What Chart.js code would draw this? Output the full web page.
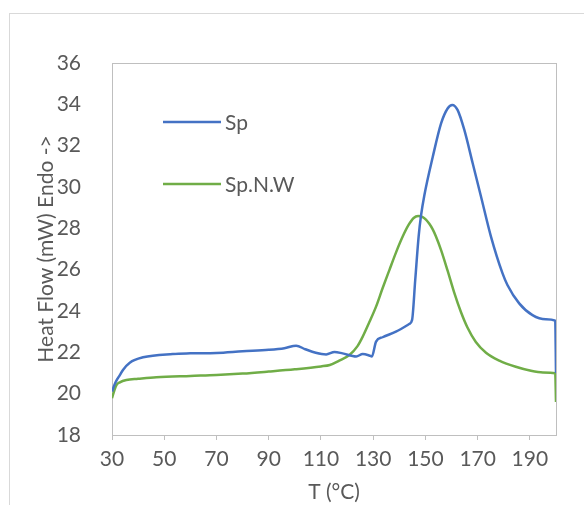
<!DOCTYPE html>
<html>
<head>
<meta charset="utf-8">
<script src="https://cdn.jsdelivr.net/npm/chart.js@4.4.1/dist/chart.umd.min.js"></script>
<style>
    body { margin: 0; background: #fff; }
    #wrap { position: relative; width: 584px; height: 505px; }
    #frame { position: absolute; left: 9px; top: 13px; width: 600px; height: 520px; border: 1px solid #d9d9d9; box-sizing: border-box; }
</style>
</head>
<body>
<div id="wrap">
    <div id="frame"></div>
    <canvas id="dscChart"></canvas>
</div>
<script>
// Sp (blue)
const tSp = [30, 31, 32, 33, 34.2, 36.8, 41.9, 53.3, 60, 70, 80, 90, 96, 100.5, 104, 108, 112, 115.2, 118.3, 123.5, 126, 128.5, 129.5, 131.1, 133.6, 138.7, 143.8, 144.9, 146.1, 147.4, 148.3, 149.6, 152.8, 156, 158.5, 160.3, 162.3, 164.9, 168.1, 171.3, 175.1, 179.5, 181.4, 185.9, 191, 196.1, 199.7, 200];
const hfSp = [20.1, 20.45, 20.7, 20.9, 21.15, 21.5, 21.76, 21.92, 21.95, 21.97, 22.05, 22.12, 22.2, 22.32, 22.15, 21.98, 21.9, 22.02, 21.95, 21.8, 21.92, 21.85, 21.8, 22.52, 22.73, 23.0, 23.37, 23.57, 25.5, 27.6, 28.6, 29.6, 31.45, 33.08, 33.8, 33.97, 33.73, 32.76, 31.15, 29.53, 27.6, 25.83, 25.26, 24.37, 23.8, 23.6, 23.53, 21.0];

// Sp.N.W (green)
const tNW = [30, 31, 31.7, 33, 35.5, 40, 47, 60, 70, 80, 90, 100, 110, 113.4, 117, 120.9, 124, 126, 128.5, 131.1, 133.6, 136.2, 138.8, 141.3, 143.5, 145.5, 147.2, 148.8, 150.2, 151.5, 152.8, 154, 156, 158.5, 161, 163.6, 166.1, 169.3, 173.2, 178.3, 184.6, 190, 195, 199.7, 200];
const hfNW = [19.78, 20.2, 20.42, 20.55, 20.66, 20.72, 20.8, 20.86, 20.9, 20.97, 21.07, 21.18, 21.32, 21.39, 21.6, 21.87, 22.3, 22.76, 23.45, 24.21, 25.1, 25.98, 26.85, 27.6, 28.15, 28.5, 28.6, 28.55, 28.42, 28.22, 27.95, 27.62, 26.95, 25.95, 24.9, 23.95, 23.2, 22.5, 21.98, 21.6, 21.3, 21.12, 21.03, 20.99, 19.6];

const seriesNames = ["Sp", "Sp.N.W"];
const seriesColors = ["#4472C4", "#70AD47"];
const xTicks = [30, 50, 70, 90, 110, 130, 150, 170, 190];

const textColor = "#595959";
const axisColor = "#bfbfbf";
const fontFamily = "Lato, 'Open Sans', sans-serif";
const fontSize = 21;

function toPoints(xs, ys) {
    return xs.map((x, i) => ({ x: x, y: ys[i] }));
}

// box round the plot area and the legend inside it
const plotBox = {
    id: "plotBox",
    beforeDatasetsDraw(chart) {
        const a = chart.chartArea;
        const ctx = chart.ctx;
        ctx.save();
        ctx.strokeStyle = axisColor;
        ctx.lineWidth = 1;
        ctx.strokeRect(a.left + 0.5, a.top + 0.5, a.right - a.left, a.bottom - a.top);
        ctx.restore();
    },
    afterDraw(chart) {
        const a = chart.chartArea;
        const ctx = chart.ctx;
        ctx.save();
        ctx.font = fontSize + "px " + fontFamily;
        ctx.textBaseline = "middle";
        seriesNames.forEach((name, i) => {
            const y = a.top + 59 + i * 62;
            ctx.strokeStyle = seriesColors[i];
            ctx.lineWidth = 2.5;
            ctx.beginPath();
            ctx.moveTo(a.left + 51, y);
            ctx.lineTo(a.left + 109, y);
            ctx.stroke();
            ctx.fillStyle = textColor;
            ctx.fillText(name, a.left + 113, y + 1);
        });
        ctx.restore();
    }
};

new Chart(document.getElementById("dscChart"), {
    type: "scatter",
    data: {
        datasets: [
            {
                label: seriesNames[0],
                data: toPoints(tSp, hfSp),
                borderColor: seriesColors[0],
                borderWidth: 2.5,
                showLine: true,
                pointRadius: 0,
                cubicInterpolationMode: "monotone"
            },
            {
                label: seriesNames[1],
                data: toPoints(tNW, hfNW),
                borderColor: seriesColors[1],
                borderWidth: 2.5,
                showLine: true,
                pointRadius: 0,
                cubicInterpolationMode: "monotone"
            }
        ]
    },
    options: {
        responsive: true,
        maintainAspectRatio: false,
        animation: false,
        layout: { padding: { left: 0, top: 63, right: 28, bottom: 0 } },
        plugins: {
            legend: { display: false },
            tooltip: { enabled: false }
        },
        scales: {
            x: {
                type: "linear",
                min: 30,
                max: 200,
                afterFit: scale => { scale.height = 70; },
                afterBuildTicks: scale => {
                    scale.ticks = xTicks.map(v => ({ value: v }));
                },
                ticks: {
                    color: textColor,
                    font: { family: fontFamily, size: fontSize },
                    padding: 7,
                    maxRotation: 0,
                    autoSkip: false
                },
                grid: {
                    drawOnChartArea: false,
                    drawTicks: true,
                    tickLength: 5,
                    color: axisColor
                },
                border: { display: true, color: axisColor },
                title: {
                    display: true,
                    text: "T (°C)",
                    color: textColor,
                    font: { family: fontFamily, size: fontSize },
                    padding: { top: 0, bottom: 0 }
                }
            },
            y: {
                min: 18,
                max: 36,
                afterFit: scale => { scale.width = 112; },
                ticks: {
                    stepSize: 2,
                    color: textColor,
                    font: { family: fontFamily, size: fontSize },
                    padding: 31
                },
                grid: { display: false, drawTicks: false },
                border: { display: true, color: axisColor },
                title: {
                    display: true,
                    text: "Heat Flow (mW) Endo ->",
                    color: textColor,
                    font: { family: fontFamily, size: fontSize },
                    padding: { top: 34, bottom: 0 }
                }
            }
        }
    },
    plugins: [plotBox]
});
</script>
</body>
</html>
